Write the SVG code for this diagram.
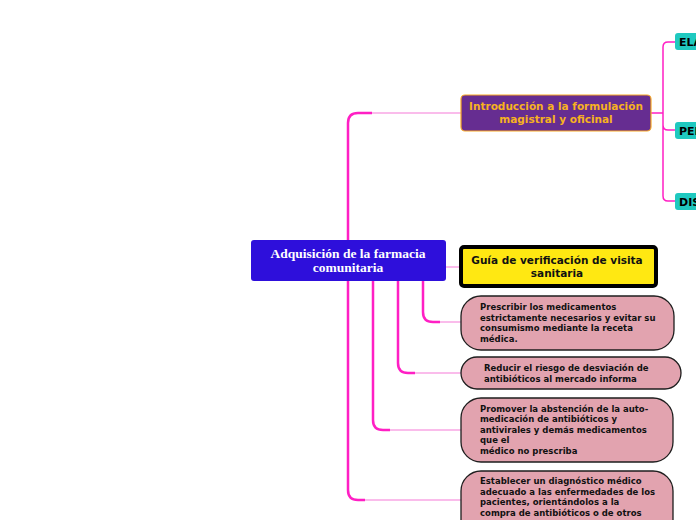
<svg xmlns="http://www.w3.org/2000/svg" width="696" height="520" viewBox="0 0 696 520">
<defs>
<style>
.mg{fill:none;stroke:#FF1FC4;stroke-width:2.5}
.lp{fill:none;stroke:#F9A6E4;stroke-width:1.5}
.sans{font-family:"DejaVu Sans",Verdana,sans-serif;font-weight:bold}
.serif{font-family:"Liberation Serif","Times New Roman",serif;font-weight:bold;font-size:13.5px;fill:#fff}
.pink rect{fill:#E2A3AF;stroke:#1E1E1E;stroke-width:1.3}
.pink text{font-size:8.5px;fill:#111}
.teal rect{fill:#1FC9C0}
.teal text{font-size:11px;fill:#000}
</style>
</defs>
<rect width="696" height="520" fill="#fff"/>
<g id="connectors">
<path class="mg" d="M348,240 V123 Q348,113 358,113 H372"/>
<path class="lp" d="M372,113 H461"/>
<path class="lp" d="M446,267 H461"/>
<path class="mg" d="M423,281 V312 Q423,322 433,322 H440"/>
<path class="lp" d="M440,322 H461"/>
<path class="mg" d="M398,281 V363 Q398,373 408,373 H415"/>
<path class="lp" d="M415,373 H461"/>
<path class="mg" d="M373,281 V420 Q373,430 383,430 H390"/>
<path class="lp" d="M390,430 H461"/>
<path class="mg" d="M348,281 V490 Q348,500 358,500 H365"/>
<path class="lp" d="M365,500 H461"/>
<path fill="none" stroke="#FF1FC4" stroke-width="1.5" d="M651,113 H663 M675,42 H668 Q663,42 663,47 V196 Q663,201 668,201 H675 M663,125 Q663,130 668,130 H675"/>
</g>
<g id="central">
<rect x="251" y="240" width="195" height="41" rx="3" fill="#2E0FDB"/>
<text class="serif" x="348" y="258" text-anchor="middle">Adquisición de la farmacia</text>
<text class="serif" x="348" y="272" text-anchor="middle">comunitaria</text>
</g>
<g id="introduccion">
<rect x="461" y="95" width="190" height="36" rx="4" fill="#662D91" stroke="#F7A823" stroke-width="1.2"/>
<text class="sans" x="556" y="110" text-anchor="middle" font-size="10.5" fill="#F7B21F">Introducción a la formulación</text>
<text class="sans" x="556" y="123" text-anchor="middle" font-size="10.5" fill="#F7B21F">magistral y oficinal</text>
</g>
<g id="ela" class="teal">
<rect x="675" y="33" width="40" height="17" rx="3"/>
<text class="sans" x="679" y="46">ELA</text>
</g>
<g id="per" class="teal">
<rect x="675" y="122" width="40" height="17" rx="3"/>
<text class="sans" x="679" y="135">PER</text>
</g>
<g id="dis" class="teal">
<rect x="675" y="193" width="40" height="17" rx="3"/>
<text class="sans" x="679" y="206">DIS</text>
</g>
<g id="guia">
<rect x="461" y="247" width="195" height="39" rx="3" fill="#FFE812" stroke="#000" stroke-width="4"/>
<text class="sans" x="557" y="264" text-anchor="middle" font-size="10.5" fill="#111">Guía de verificación de visita</text>
<text class="sans" x="557" y="277" text-anchor="middle" font-size="10.5" fill="#111">sanitaria</text>
</g>
<g id="prescribir" class="pink">
<rect x="461" y="296" width="213" height="54" rx="20"/>
<text class="sans" x="480" y="310">Prescribir los medicamentos</text>
<text class="sans" x="480" y="320.5">estrictamente necesarios y evitar su</text>
<text class="sans" x="480" y="331">consumismo mediante la receta</text>
<text class="sans" x="480" y="341.5">médica.</text>
</g>
<g id="reducir" class="pink">
<rect x="461" y="357" width="220" height="32" rx="16"/>
<text class="sans" x="484" y="371">Reducir el riesgo de desviación de</text>
<text class="sans" x="484" y="382">antibióticos al mercado informa</text>
</g>
<g id="promover" class="pink">
<rect x="461" y="398" width="212" height="64" rx="20"/>
<text class="sans" x="480" y="411.5">Promover la abstención de la auto-</text>
<text class="sans" x="480" y="422">medicación de antibióticos y</text>
<text class="sans" x="480" y="432.5">antivirales y demás medicamentos</text>
<text class="sans" x="480" y="443">que el</text>
<text class="sans" x="480" y="453.5">médico no prescriba</text>
</g>
<g id="establecer" class="pink">
<rect x="461" y="471" width="212" height="70" rx="20"/>
<text class="sans" x="480" y="484">Establecer un diagnóstico médico</text>
<text class="sans" x="480" y="494.5">adecuado a las enfermedades de los</text>
<text class="sans" x="480" y="505">pacientes, orientándolos a la</text>
<text class="sans" x="480" y="515.5">compra de antibióticos o de otros</text>
</g>
</svg>
